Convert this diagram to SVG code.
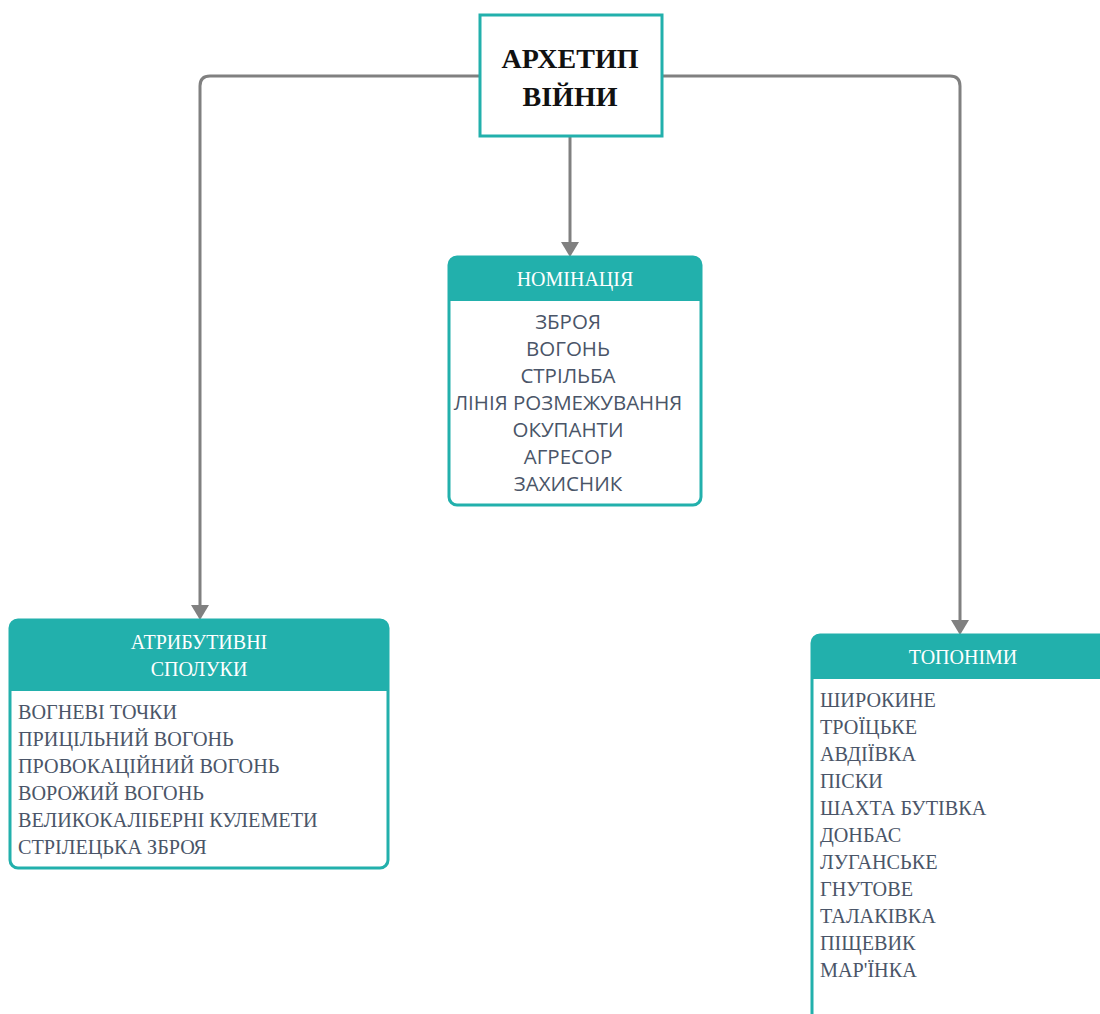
<svg xmlns="http://www.w3.org/2000/svg" width="1100" height="1014" viewBox="0 0 1100 1014">
<defs>
<style>
.box{fill:#ffffff;stroke:#22b0ac;stroke-width:3}
.hdr{fill:#22b0ac}
.conn{fill:none;stroke:#808080;stroke-width:3}
.title{font-family:"Liberation Serif",serif;font-weight:bold;font-size:28px;fill:#111111;text-anchor:middle}
.htxt{font-family:"Liberation Serif",serif;font-size:20px;fill:#ffffff;text-anchor:middle}
.sans{font-family:"Open Sans","Noto Sans",sans-serif;font-size:20.5px;fill:#4a5568;text-anchor:middle}
.serif{font-family:"Liberation Serif",serif;font-size:20.2px;fill:#4a5568}
</style>
</defs>
<rect width="1100" height="1014" fill="#ffffff"/>
<g id="connectors">
<path class="conn" d="M480,76 H210 Q200,76 200,86 V606"/>
<path d="M191,605 L209,605 L200,620 Z" fill="#808080"/>
<path class="conn" d="M662,76 H950 Q960,76 960,86 V621"/>
<path d="M951,620 L969,620 L960,635 Z" fill="#808080"/>
<path class="conn" d="M570,136 V243"/>
<path d="M561,242 L579,242 L570,257 Z" fill="#808080"/>
</g>
<g id="archetype">
<rect x="480" y="15" width="182" height="121" fill="#ffffff" stroke="#22b0ac" stroke-width="3"/>
<text class="title" x="570" y="68">АРХЕТИП</text>
<text class="title" x="570" y="106">ВІЙНИ</text>
</g>
<g id="nomination">
<rect class="box" x="449" y="257" width="252" height="248" rx="8"/>
<path class="hdr" d="M449,301 V265 Q449,257 457,257 H693 Q701,257 701,265 V301 Z"/>
<text class="htxt" x="575" y="286">НОМІНАЦІЯ</text>
<text class="sans" x="568" y="329">ЗБРОЯ</text>
<text class="sans" x="568" y="356">ВОГОНЬ</text>
<text class="sans" x="568" y="383">СТРІЛЬБА</text>
<text class="sans" x="568" y="410">ЛІНІЯ РОЗМЕЖУВАННЯ</text>
<text class="sans" x="568" y="437">ОКУПАНТИ</text>
<text class="sans" x="568" y="464">АГРЕСОР</text>
<text class="sans" x="568" y="491">ЗАХИСНИК</text>
</g>
<g id="attributive">
<rect class="box" x="10" y="620" width="378" height="248" rx="8"/>
<path class="hdr" d="M10,691 V628 Q10,620 18,620 H380 Q388,620 388,628 V691 Z"/>
<text class="htxt" x="199" y="649">АТРИБУТИВНІ</text>
<text class="htxt" x="199" y="676">СПОЛУКИ</text>
<text class="serif" x="18" y="719">ВОГНЕВІ ТОЧКИ</text>
<text class="serif" x="18" y="746">ПРИЦІЛЬНИЙ ВОГОНЬ</text>
<text class="serif" x="18" y="773">ПРОВОКАЦІЙНИЙ ВОГОНЬ</text>
<text class="serif" x="18" y="800">ВОРОЖИЙ ВОГОНЬ</text>
<text class="serif" x="18" y="827">ВЕЛИКОКАЛІБЕРНІ КУЛЕМЕТИ</text>
<text class="serif" x="18" y="854">СТРІЛЕЦЬКА ЗБРОЯ</text>
</g>
<g id="toponyms">
<rect class="box" x="812" y="635" width="320" height="420" rx="8"/>
<path class="hdr" d="M812,679 V643 Q812,635 820,635 H1132 V679 Z"/>
<text class="htxt" x="963" y="664">ТОПОНІМИ</text>
<text class="serif" x="820" y="707">ШИРОКИНЕ</text>
<text class="serif" x="820" y="734">ТРОЇЦЬКЕ</text>
<text class="serif" x="820" y="761">АВДІЇВКА</text>
<text class="serif" x="820" y="788">ПІСКИ</text>
<text class="serif" x="820" y="815">ШАХТА БУТІВКА</text>
<text class="serif" x="820" y="842">ДОНБАС</text>
<text class="serif" x="820" y="869">ЛУГАНСЬКЕ</text>
<text class="serif" x="820" y="896">ГНУТОВЕ</text>
<text class="serif" x="820" y="923">ТАЛАКІВКА</text>
<text class="serif" x="820" y="950">ПІЩЕВИК</text>
<text class="serif" x="820" y="977">МАР'ЇНКА</text>
</g>
</svg>
